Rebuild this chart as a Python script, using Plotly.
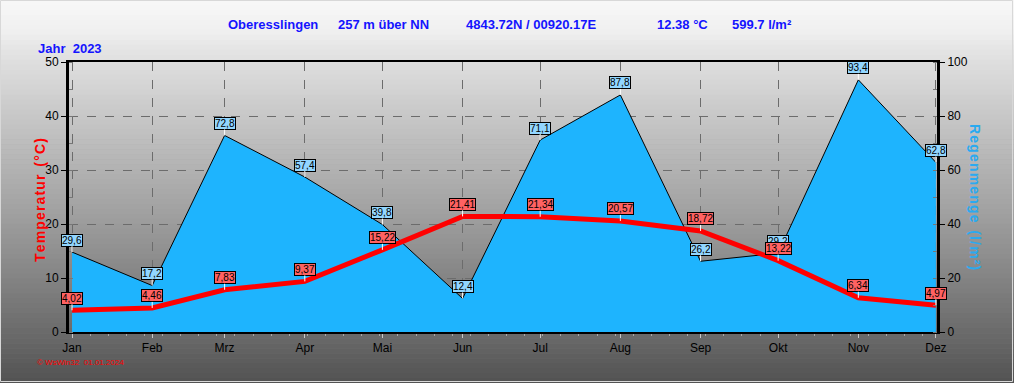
import plotly.graph_objects as go

# ---------------- data ----------------
months = ["Jan", "Feb", "Mrz", "Apr", "Mai", "Jun", "Jul", "Aug", "Sep", "Okt", "Nov", "Dez"]
dates = ["2023-01-01", "2023-02-01", "2023-03-01", "2023-04-01", "2023-05-01", "2023-06-01",
         "2023-07-01", "2023-08-01", "2023-09-01", "2023-10-01", "2023-11-01", "2023-12-01"]
temperature = [4.02, 4.46, 7.83, 9.37, 15.22, 21.41, 21.34, 20.57, 18.72, 13.22, 6.34, 4.97]
rain = [29.6, 17.2, 72.8, 57.4, 39.8, 12.4, 71.1, 87.8, 26.2, 29.2, 93.4, 62.8]
temp_ticks = [0, 10, 20, 30, 40, 50]
rain_ticks = [0, 20, 40, 60, 80, 100]

W, H = 1014, 383
L, R, T, B = 69, 77, 62, 51
PW, PH = W - L - R, H - T - B
FONT = "Liberation Sans, Arial, sans-serif"


def px_x(p):
    return (p - L) / PW


def px_y(p):
    return (H - B - p) / PH


fig = go.Figure()

fig.add_trace(go.Scatter(
    x=dates, y=rain, mode="lines", fill="tozeroy", fillcolor="#1eb4fe",
    line=dict(color="black", width=1), yaxis="y", hoverinfo="skip", showlegend=False))
fig.add_trace(go.Scatter(
    x=dates, y=temperature, mode="lines",
    line=dict(color="#ff0000", width=5), yaxis="y2", hoverinfo="skip", showlegend=False))

# ---------------- background gradient ----------------
stops = [(0, 248), (30, 240), (62, 222), (130, 194), (200, 166), (260, 140), (330, 108), (383, 82)]


def grey_at(p):
    for (a, ca), (b, cb) in zip(stops[:-1], stops[1:]):
        if a <= p <= b:
            t = (p - a) / (b - a)
            return int(round(ca + (cb - ca) * t))
    return stops[-1][1]


shapes = []
n = 77
for i in range(n):
    y0 = H * i / n
    y1 = H * (i + 1) / n + 0.6
    g = grey_at((y0 + y1) / 2)
    shapes.append(dict(type="rect", xref="paper", yref="paper", layer="below",
                       x0=px_x(0), x1=px_x(W), y0=px_y(y0), y1=px_y(min(y1, H)),
                       fillcolor=f"rgb({g},{g},{g})", line=dict(width=0)))
shapes.append(dict(type="rect", xref="paper", yref="paper", layer="below",
                   x0=px_x(0.5), x1=px_x(W - 1.5), y0=px_y(0.5), y1=px_y(H - 1.5),
                   fillcolor="rgba(0,0,0,0)", line=dict(width=1, color="#d8d8d8")))

# ---------------- annotations ----------------
ann = []
blue = "#1414ff"
title_parts = [("Oberesslingen", 226), ("257 m über NN", 336), ("4843.72N / 00920.17E", 464),
               ("12.38 °C", 655), ("599.7 l/m²", 730)]
for txt, xp in title_parts:
    ann.append(dict(text=f"<b>{txt}</b>", xref="paper", yref="paper", x=px_x(xp), y=px_y(25),
                    xanchor="left", yanchor="middle", showarrow=False,
                    font=dict(family=FONT, size=13, color=blue)))
ann.append(dict(text="<b>Jahr  2023</b>", xref="paper", yref="paper", x=px_x(36), y=px_y(48),
                xanchor="left", yanchor="middle", showarrow=False,
                font=dict(family=FONT, size=13, color=blue)))
ann.append(dict(text="<b>T e m p e r a t u r   ( ° C )</b>".replace(" ", "\u200a").replace("\u200a\u200a\u200a", "  "),
                xref="paper", yref="paper", x=px_x(40), y=px_y(200),
                xanchor="center", yanchor="middle", textangle=-90, showarrow=False,
                font=dict(family=FONT, size=14, color="#ff0000")))
ann.append(dict(text="<b>R e g e n m e n g e   ( l / m ² )</b>".replace(" ", "\u200a").replace("\u200a\u200a\u200a", "  "),
                xref="paper", yref="paper", x=px_x(975), y=px_y(197),
                xanchor="center", yanchor="middle", textangle=90, showarrow=False,
                font=dict(family=FONT, size=14, color="#2aaaf0")))
ann.append(dict(text="© WsWin32  01.01.2024", xref="paper", yref="paper", x=px_x(35), y=px_y(363),
                xanchor="left", yanchor="middle", showarrow=False,
                font=dict(family=FONT, size=8, color="#ff0000")))

for d, v in zip(dates, rain):
    ann.append(dict(x=d, y=v, xref="x", yref="y", text=f"{v:.1f}".replace(".", ","),
                    showarrow=True, arrowhead=0, arrowwidth=1, arrowcolor="white",
                    ax=0, ay=-12, font=dict(family=FONT, size=10, color="black"),
                    bgcolor="#92d6ff", bordercolor="black", borderwidth=1, borderpad=0))
for d, v in zip(dates, temperature):
    ann.append(dict(x=d, y=v, xref="x", yref="y2", text=f"{v:.2f}".replace(".", ","),
                    showarrow=True, arrowhead=0, arrowwidth=1, arrowcolor="white",
                    ax=0, ay=-12, font=dict(family=FONT, size=10, color="black"),
                    bgcolor="#ff6262", bordercolor="black", borderwidth=1, borderpad=0))

grid = dict(showgrid=True, gridcolor="#6c6c6c", griddash="dash", gridwidth=1)

fig.update_layout(
    width=W, height=H, margin=dict(l=L, r=R, t=T, b=B, pad=0),
    paper_bgcolor="#a0a0a0", plot_bgcolor="rgba(0,0,0,0)",
    font=dict(family=FONT, size=12, color="black"),
    showlegend=False, shapes=shapes, annotations=ann,
    xaxis=dict(type="date", range=["2022-12-30 20:00", "2023-12-01 10:00"],
               tickmode="array", tickvals=dates, ticktext=months,
               **grid, zeroline=False, showline=True, linecolor="black", linewidth=2, mirror=True,
               ticks="outside", ticklen=4, tickcolor="#c8c8c8",
               tickfont=dict(family=FONT, size=12, color="black"),
               minor=dict(dtick=7 * 86400000, ticks="outside", ticklen=2, tickcolor="#a8a8a8", showgrid=False)),
    yaxis=dict(range=[0, 100], side="right", tickmode="array", tickvals=rain_ticks,
               **grid, zeroline=False, showline=True, linecolor="black", linewidth=3,
               ticks="outside", ticklen=5, tickcolor="black",
               tickfont=dict(family=FONT, size=12, color="black"),
               minor=dict(dtick=10, ticks="inside", ticklen=4, tickcolor="#777777", showgrid=False)),
    yaxis2=dict(range=[0, 50], side="left", overlaying="y", tickmode="array", tickvals=temp_ticks,
                showgrid=False, zeroline=False, showline=True, linecolor="black", linewidth=3,
                ticks="outside", ticklen=5, tickcolor="black",
                tickfont=dict(family=FONT, size=12, color="black"),
                minor=dict(dtick=5, ticks="inside", ticklen=4, tickcolor="#777777", showgrid=False)),
)

fig.write_html("out.html", config={"displayModeBar": False},
               post_script="document.body.style.margin='0';document.body.style.overflow='hidden';")
